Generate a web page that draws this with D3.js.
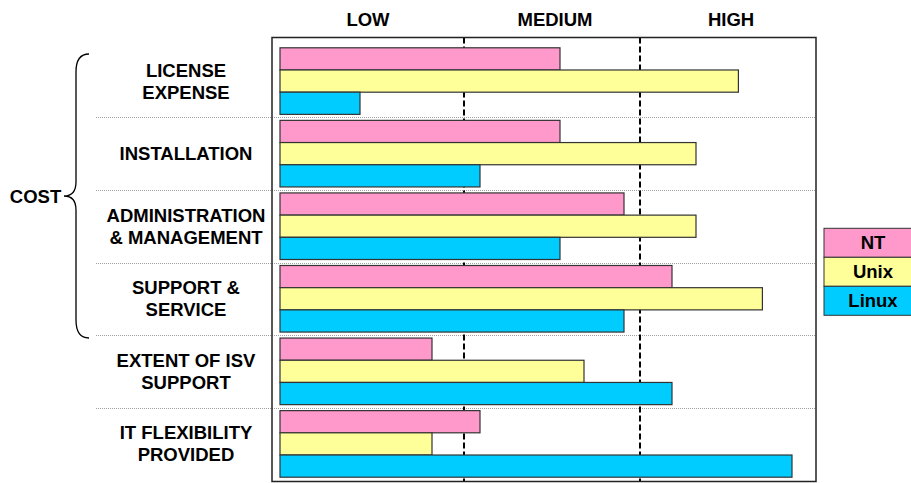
<!DOCTYPE html>
<html>
<head>
<meta charset="utf-8">
<script src="https://cdn.jsdelivr.net/npm/d3@7/dist/d3.min.js"></script>
<style>
  html, body { margin: 0; padding: 0; background: #fff; }
  svg { display: block; }
  text { font-family: "Liberation Sans", Arial, sans-serif; font-weight: bold; fill: #000; }
</style>
</head>
<body>
<svg id="chart" width="911" height="483"></svg>
<script>
// ---- data ----
const categories = [
  ["LICENSE", "EXPENSE"],
  ["INSTALLATION"],
  ["ADMINISTRATION", "& MANAGEMENT"],
  ["SUPPORT &", "SERVICE"],
  ["EXTENT OF ISV", "SUPPORT"],
  ["IT FLEXIBILITY", "PROVIDED"]
];
const seriesNames = ["NT", "Unix", "Linux"];
const ntValues    = [35, 35, 43, 49, 19, 25];
const unixValues  = [57.3, 52, 52, 60.3, 38, 19];
const linuxValues = [10, 25, 35, 43, 49, 64];
const levelLabels = ["LOW", "MEDIUM", "HIGH"];
const levelBounds = [23, 45];
const scaleMax = 67;
const groupLabel = "COST";
const groupCount = 4; // first four categories belong to COST
const seriesColors = ["#FF99CC", "#FFFF99", "#00CCFF"];

// ---- layout ----
const svg = d3.select("#chart");
const plot = { left: 272, right: 816, top: 37.5, bottom: 481.5 };
const x = d3.scaleLinear().domain([0, scaleMax]).range([280, 816]);
const catKeys = categories.map((c, i) => i);
const y = d3.scaleBand().domain(catKeys).range([44.8, 480.2]).padding(0);
const yInner = d3.scaleBand().domain(seriesNames).range([0, y.bandwidth()])
  .paddingInner(0).paddingOuter(0.135);

const seriesValues = [ntValues, unixValues, linuxValues];

// plot frame background
svg.append("rect")
  .attr("x", plot.left).attr("y", plot.top)
  .attr("width", plot.right - plot.left).attr("height", plot.bottom - plot.top)
  .attr("fill", "#fff");

// dotted separators
svg.append("g").selectAll("line")
  .data(catKeys.slice(1))
  .join("line")
  .attr("x1", 96).attr("x2", plot.right)
  .attr("y1", d => Math.round(y(d)) + 0.5).attr("y2", d => Math.round(y(d)) + 0.5)
  .attr("stroke", "#a0a0a0").attr("stroke-width", 1)
  .attr("stroke-dasharray", "1,1");

// dashed level boundaries
svg.append("g").selectAll("line")
  .data(levelBounds)
  .join("line")
  .attr("x1", d => Math.round(x(d))).attr("x2", d => Math.round(x(d)))
  .attr("y1", plot.top).attr("y2", plot.bottom)
  .attr("stroke", "#000").attr("stroke-width", 2)
  .attr("stroke-dasharray", "6,3");

// bars
const barData = [];
catKeys.forEach(ci => {
  seriesNames.forEach((s, si) => {
    barData.push({ ci, s, si, v: seriesValues[si][ci] });
  });
});
svg.append("g").selectAll("rect")
  .data(barData)
  .join("rect")
  .attr("x", x(0))
  .attr("y", d => y(d.ci) + yInner(d.s))
  .attr("width", d => x(d.v) - x(0))
  .attr("height", yInner.bandwidth())
  .attr("fill", d => seriesColors[d.si])
  .attr("stroke", "#333")
  .attr("stroke-width", 1.2);

// frame border
svg.append("rect")
  .attr("x", plot.left).attr("y", plot.top)
  .attr("width", plot.right - plot.left).attr("height", plot.bottom - plot.top)
  .attr("fill", "none").attr("stroke", "#222").attr("stroke-width", 1.5);

// level labels
const edges = [plot.left, x(levelBounds[0]), x(levelBounds[1]), plot.right];
svg.append("g").selectAll("text")
  .data(levelLabels)
  .join("text")
  .attr("x", (d, i) => (edges[i] + edges[i + 1]) / 2 + (i === 0 ? 0 : 3))
  .attr("y", 26)
  .attr("text-anchor", "middle")
  .attr("font-size", 18.5)
  .text(d => d);

// category labels
const lineH = 22;
const catG = svg.append("g");
categories.forEach((lines, ci) => {
  const cy = y(ci) + y.bandwidth() / 2;
  const t = catG.append("text")
    .attr("x", 186).attr("text-anchor", "middle").attr("font-size", 18.5);
  lines.forEach((ln, li) => {
    const off = (li - (lines.length - 1) / 2) * lineH;
    t.append("tspan").attr("x", 186).attr("y", cy + off + 6.5).text(ln);
  });
});

// brace for COST
const bTop = 54, bBot = 338;
const bMid = (bTop + bBot) / 2;
const bx = 76, tipX = 89, pointX = 64;
const brace = d3.path();
brace.moveTo(tipX, bTop);
brace.quadraticCurveTo(bx, bTop, bx, bTop + 18);
brace.lineTo(bx, bMid - 14);
brace.quadraticCurveTo(bx, bMid, pointX, bMid);
brace.quadraticCurveTo(bx, bMid, bx, bMid + 14);
brace.lineTo(bx, bBot - 18);
brace.quadraticCurveTo(bx, bBot, tipX, bBot);
svg.append("path").attr("d", brace.toString())
  .attr("fill", "none").attr("stroke", "#000").attr("stroke-width", 1.3);

svg.append("text")
  .attr("x", 35.5).attr("y", bMid + 7)
  .attr("text-anchor", "middle").attr("font-size", 18.5)
  .text(groupLabel);

// legend
const legX = 824, legY = 228.3, legRowH = 29, legW = 98;
const leg = svg.append("g");
seriesNames.forEach((s, i) => {
  leg.append("rect")
    .attr("x", legX).attr("y", legY + i * legRowH)
    .attr("width", legW).attr("height", legRowH)
    .attr("fill", seriesColors[i]).attr("stroke", "#333").attr("stroke-width", 1);
  leg.append("text")
    .attr("x", legX + legW / 2).attr("y", legY + i * legRowH + legRowH / 2 + 6.5)
    .attr("text-anchor", "middle").attr("font-size", 18.5)
    .text(s);
});
</script>
</body>
</html>
